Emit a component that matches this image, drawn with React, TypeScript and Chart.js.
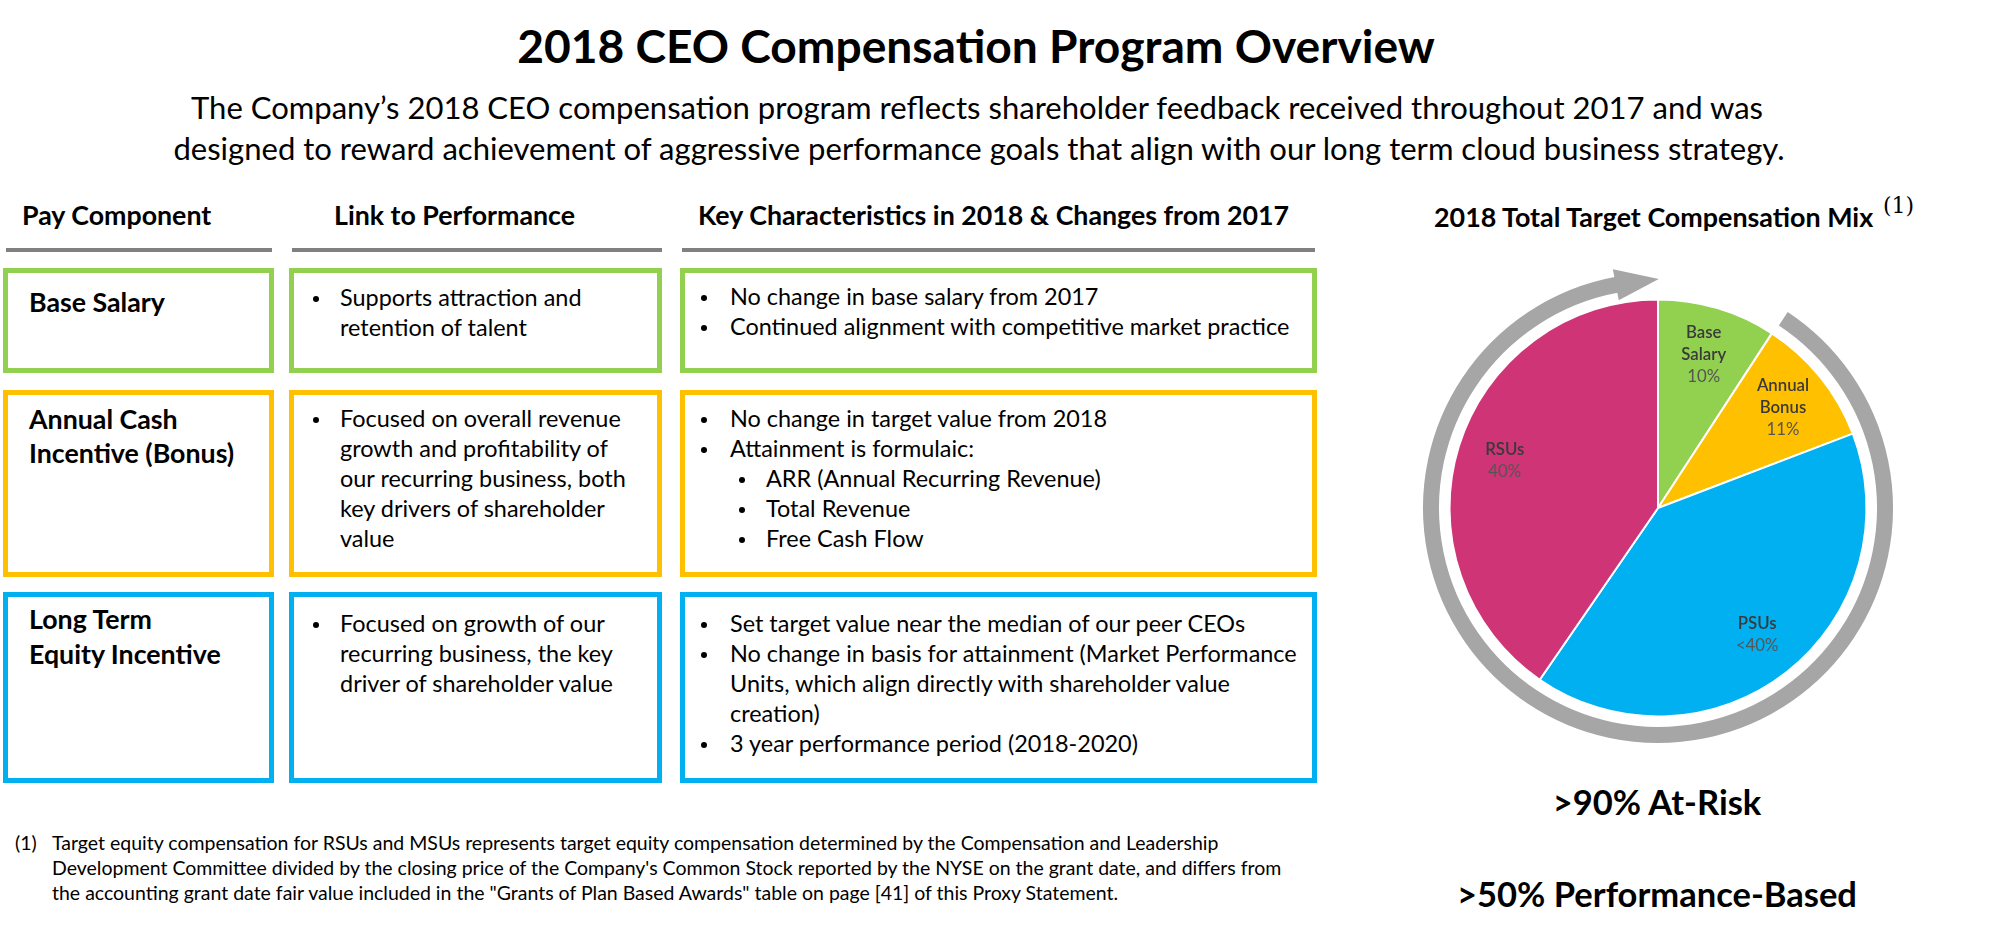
import React, { useEffect, useRef } from "react";
import { Chart, registerables } from "chart.js";

Chart.register(...registerables);

// ---------------- data ----------------
const titleText = "2018 CEO Compensation Program Overview";
const subtitleLines = [
  "The Company’s 2018 CEO compensation program reflects shareholder feedback received throughout 2017 and was",
  "designed to reward achievement of aggressive performance goals that align with our long term cloud business strategy.",
];
const columnHeaders = ["Pay Component", "Link to Performance", "Key Characteristics in 2018 & Changes from 2017"];
const payComponents = [["Base Salary"], ["Annual Cash", "Incentive (Bonus)"], ["Long Term", "Equity Incentive"]];
const linkToPerformance = [
  ["Supports attraction and", "retention of talent"],
  ["Focused on overall revenue", "growth and profitability of", "our recurring business, both", "key drivers of shareholder", "value"],
  ["Focused on growth of our", "recurring business, the key", "driver of shareholder value"],
];
// [level, text]: 1 = bullet, 2 = sub-bullet, 0 = continuation
const keyCharacteristics: [number, string][][] = [
  [
    [1, "No change in base salary from 2017"],
    [1, "Continued alignment with competitive market practice"],
  ],
  [
    [1, "No change in target value from 2018"],
    [1, "Attainment is formulaic:"],
    [2, "ARR (Annual Recurring Revenue)"],
    [2, "Total Revenue"],
    [2, "Free Cash Flow"],
  ],
  [
    [1, "Set target value near the median of our peer CEOs"],
    [1, "No change in basis for attainment (Market Performance"],
    [0, "Units, which align directly with shareholder value"],
    [0, "creation)"],
    [1, "3 year performance period (2018-2020)"],
  ],
];
const footnoteLines = [
  "Target equity compensation for RSUs and MSUs represents target equity compensation determined by the Compensation and Leadership",
  "Development Committee divided by the closing price of the Company's Common Stock reported by the NYSE on the grant date, and differs from",
  "the accounting grant date fair value included in the \"Grants of Plan Based Awards\" table on page [41] of this Proxy Statement.",
];
const pieTitle = "2018 Total Target Compensation Mix";
const mixCategories = ["Base Salary", "Annual Bonus", "PSUs", "RSUs"];
const mixValues = [9.2, 10.0, 40.4, 40.4];
const mixLabels = ["10%", "11%", "<40%", "40%"];
const summaryLines = [">90% At-Risk", ">50% Performance-Based"];

// ---------------- styles ----------------
const FONT = "Lato, 'Open Sans', sans-serif";
const GREEN = "#92D050";
const YELLOW = "#FFC000";
const BLUE = "#00B0F0";
const MAGENTA = "#CF3476";
const sliceColors = [GREEN, YELLOW, BLUE, MAGENTA];
const rowColors = [GREEN, YELLOW, BLUE];

let mctx: CanvasRenderingContext2D | null = null;
function ctx2d() {
  if (!mctx) mctx = document.createElement("canvas").getContext("2d");
  return mctx!;
}
function widthOf(text: string, weight: number, size: number, family = FONT) {
  const c = ctx2d();
  c.font = `${weight} ${size}px ${family}`;
  return c.measureText(text).width;
}
function fit(text: string, weight: number, target: number, family = FONT) {
  return (40 * target) / widthOf(text, weight, 40, family);
}
function metrics(weight: number, size: number, family: string) {
  const c = ctx2d();
  c.font = `${weight} ${size}px ${family}`;
  const m: any = c.measureText("Hg");
  const a = m.fontBoundingBoxAscent ?? 0.987 * size;
  const d = m.fontBoundingBoxDescent ?? 0.213 * size;
  return [a, d];
}

function Txt(props: any) {
  const { x, y, size, weight = 400, color = "#000", align = "left", family = FONT, children } = props;
  const [a, d] = metrics(weight, size, family);
  const style: any = {
    position: "absolute",
    top: y - a,
    left: x,
    height: a + d,
    lineHeight: `${a + d}px`,
    fontSize: `${size}px`,
    fontWeight: weight,
    fontFamily: family,
    color,
    whiteSpace: "pre",
  };
  if (align === "center") style.transform = "translateX(-50%)";
  return <div style={style}>{children}</div>;
}

// small round bullet centred on the x-height of a text line
function Bullet(props: { x: number; y: number }) {
  return (
    <div
      style={{
        position: "absolute",
        left: props.x,
        top: props.y - 10,
        width: 6,
        height: 6,
        borderRadius: 3,
        background: "#000",
      }}
    />
  );
}

// ---------------- pie chart ----------------
function MixPie(props: { labelSize: number }) {
  const ref = useRef<HTMLCanvasElement>(null);
  useEffect(() => {
    const canvas = ref.current!;
    const labelSize = props.labelSize;
    const ringPlugin = {
      id: "ring",
      beforeDatasetsDraw(chart: any) {
        const meta = chart.getDatasetMeta(0);
        const arc = meta.data[0];
        if (!arc) return;
        const { x, y, outerRadius } = arc.getProps(["x", "y", "outerRadius"], true);
        const c = chart.ctx;
        const rc = outerRadius + 18.5;
        const deg = (d: number) => ((d - 90) * Math.PI) / 180;
        c.save();
        c.strokeStyle = "#A6A6A6";
        c.fillStyle = "#A6A6A6";
        c.lineWidth = 16;
        c.lineCap = "butt";
        c.beginPath();
        c.arc(x, y, rc, deg(33.5), deg(349.7));
        c.stroke();
        const p = (r: number, a: number) => [x + r * Math.cos(deg(a)), y + r * Math.sin(deg(a))];
        const o = p(rc + 16, 349.3);
        const t = p(rc + 2, 0.2);
        const i = p(rc - 15.5, 349.3);
        c.beginPath();
        c.moveTo(o[0], o[1]);
        c.lineTo(t[0], t[1]);
        c.lineTo(i[0], i[1]);
        c.closePath();
        c.fill();
        c.restore();
      },
    };
    const labelPlugin = {
      id: "mixLabels",
      afterDatasetsDraw(chart: any) {
        const meta = chart.getDatasetMeta(0);
        const c = chart.ctx;
        c.save();
        c.textAlign = "center";
        c.textBaseline = "middle";
        meta.data.forEach((arc: any, i: number) => {
          const { x, y, startAngle, endAngle, outerRadius } = arc.getProps(
            ["x", "y", "startAngle", "endAngle", "outerRadius"],
            true
          );
          const mid = (startAngle + endAngle) / 2;
          const r = outerRadius * 0.77;
          const cx = x + r * Math.cos(mid);
          const cy = y + r * Math.sin(mid);
          const lines = [...mixCategories[i].split(" "), mixLabels[i]];
          const lh = 22;
          const y0 = cy - ((lines.length - 1) * lh) / 2;
          lines.forEach((tx, j) => {
            const isName = j < lines.length - 1;
            c.font = `${isName ? 600 : 400} ${labelSize}px ${FONT}`;
            c.fillStyle = isName ? "#3A3A3A" : "#555555";
            c.fillText(tx, cx, y0 + j * lh);
          });
        });
        c.restore();
      },
    };
    const chart = new Chart(canvas, {
      type: "pie",
      data: {
        labels: mixCategories,
        datasets: [
          {
            data: mixValues,
            backgroundColor: sliceColors,
            borderColor: "#FFFFFF",
            borderWidth: 2,
          },
        ],
      },
      options: {
        animation: false,
        responsive: false,
        devicePixelRatio: 1,
        radius: 208.5,
        events: [],
        layout: { padding: 0 },
        plugins: { legend: { display: false }, tooltip: { enabled: false }, title: { display: false } },
      } as any,
      plugins: [ringPlugin, labelPlugin],
    });
    return () => chart.destroy();
  }, []);
  return (
    <canvas
      ref={ref}
      width={540}
      height={540}
      style={{ position: "absolute", left: 1388, top: 238, width: 540, height: 540 }}
    />
  );
}

// ---------------- layout ----------------
const cols = [
  { left: 3, width: 271, ruleL: 6, ruleR: 272, headX: 22 },
  { left: 289, width: 373, ruleL: 292, ruleR: 662, headX: 334 },
  { left: 680, width: 637, ruleL: 682, ruleR: 1315, headX: 698 },
];
const rows = [
  { top: 268, height: 105, labelY: 312, textY: 306 },
  { top: 390, height: 187, labelY: 428.5, textY: 427 },
  { top: 592, height: 191, labelY: 629, textY: 632 },
];

export default function App() {
  const sTitle = fit(titleText, 700, 918);
  const sSub = fit(subtitleLines[0], 400, 1574);
  const sHead = fit(columnHeaders[2], 700, 592);
  const sBody = fit("Continued alignment with competitive market practice", 400, 560);
  const sFoot = fit(footnoteLines[1], 400, 1231);
  const sPieTitle = fit(pieTitle, 700, 441);
  const sBig = fit(summaryLines[1], 700, 400);
  const sPieLabel = fit("Annual", 400, 51.7);
  const bodyLH = 30;

  const els: any[] = [];
  // title & subtitle
  els.push(
    <Txt key="title" x={976} y={63} size={sTitle} weight={700} align="center">
      {titleText}
    </Txt>
  );
  subtitleLines.forEach((l, i) =>
    els.push(
      <Txt key={"sub" + i} x={977 + i * 2} y={119 + i * 41} size={sSub} align="center">
        {l}
      </Txt>
    )
  );
  // headers + rules
  cols.forEach((c, i) => {
    els.push(
      <Txt key={"h" + i} x={c.headX} y={225} size={sHead} weight={700}>
        {columnHeaders[i]}
      </Txt>
    );
    els.push(
      <div
        key={"r" + i}
        style={{ position: "absolute", left: c.ruleL, top: 248, width: c.ruleR - c.ruleL, height: 4, background: "#808080" }}
      />
    );
  });
  // boxes
  rows.forEach((r, ri) => {
    cols.forEach((c, ci) => {
      els.push(
        <div
          key={`b${ri}${ci}`}
          style={{
            position: "absolute",
            left: c.left,
            top: r.top,
            width: c.width,
            height: r.height,
            border: `5px solid ${rowColors[ri]}`,
            boxSizing: "border-box",
          }}
        />
      );
    });
    payComponents[ri].forEach((l, li) =>
      els.push(
        <Txt key={`pc${ri}${li}`} x={29} y={r.labelY + li * 34.5} size={sHead} weight={700}>
          {l}
        </Txt>
      )
    );
    linkToPerformance[ri].forEach((l, li) => {
      const y = r.textY + li * bodyLH;
      if (li === 0) els.push(<Bullet key={`lb${ri}`} x={313} y={y} />);
      els.push(
        <Txt key={`lt${ri}${li}`} x={340} y={y} size={sBody}>
          {l}
        </Txt>
      );
    });
    keyCharacteristics[ri].forEach(([lvl, l], li) => {
      const y = (ri === 0 ? 305 : r.textY) + li * bodyLH;
      const tx = lvl === 2 ? 766 : 730;
      if (lvl > 0) els.push(<Bullet key={`kb${ri}${li}`} x={lvl === 2 ? 739 : 701} y={y} />);
      els.push(
        <Txt key={`kt${ri}${li}`} x={tx} y={y} size={sBody}>
          {l}
        </Txt>
      );
    });
  });
  // footnote
  els.push(
    <Txt key="fn" x={15} y={850} size={sFoot}>
      {"(1)"}
    </Txt>
  );
  footnoteLines.forEach((l, i) =>
    els.push(
      <Txt key={"f" + i} x={52} y={850 + i * 25} size={sFoot}>
        {l}
      </Txt>
    )
  );
  // pie title
  els.push(
    <Txt key="pt" x={1434} y={227} size={sPieTitle} weight={700}>
      {pieTitle}
    </Txt>
  );
  els.push(
    <Txt key="pt1" x={1883} y={213} size={22} family="'DejaVu Serif', 'Liberation Serif', serif">
      {"(1)"}
    </Txt>
  );
  summaryLines.forEach((l, i) =>
    els.push(
      <Txt key={"s" + i} x={1657} y={815 + i * 92} size={sBig} weight={700} align="center">
        {l}
      </Txt>
    )
  );

  return (
    <div
      style={{
        position: "absolute",
        left: 0,
        top: 0,
        width: 2000,
        height: 941,
        background: "#FFFFFF",
        overflow: "hidden",
      }}
    >
      {els}
      <MixPie labelSize={sPieLabel} />
    </div>
  );
}
